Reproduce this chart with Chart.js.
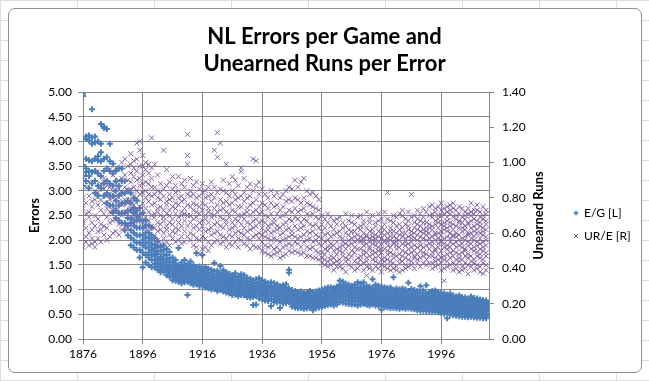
<!DOCTYPE html>
<html><head><meta charset="utf-8">
<script src="https://cdn.jsdelivr.net/npm/chart.js@4.4.1/dist/chart.umd.min.js"></script>
<style>
html,body{margin:0;padding:0;background:#fff;}
#wrap{position:relative;width:649px;height:381px;overflow:hidden;background:#fff;
 background-image:linear-gradient(90deg,#dadcdd 1px,transparent 1px),linear-gradient(#dadcdd 1px,transparent 1px);
 background-size:77px 20px;}
#frame{position:absolute;left:8px;top:8px;width:632px;height:363px;border:1px solid #8e8e8e;border-radius:7px;background:#fff;}
canvas{position:absolute;left:0;top:0;}
</style></head><body>
<div id="wrap"><div id="frame"></div><canvas id="c" width="649" height="381"></canvas></div>
<script>
// ---- text ----
const titleLines = ["NL Errors per Game and", "Unearned Runs per Error"];
const leftAxisTitle = "Errors";
const rightAxisTitle = "Unearned Runs";
const seriesNames = ["E/G [L]", "UR/E [R]"];
const xTickYears = [1876, 1896, 1916, 1936, 1956, 1976, 1996];
const xMin = 1876, xMax = 2012;

// ---- E/G (errors per game): one row per season, one value per team ----
const egStart1 = 1876;
const eg1876to1899 = [
 [4.97,4.92,4.05,3.52,3.30,3.10],[4.10,4.05,3.65,3.45,3.38,3.20],[4.12,4.02,3.62,3.40,3.30,3.05],
 [4.65,4.08,3.95,3.60,3.38,3.15],[4.10,3.98,3.65,3.40,3.20,2.95],[4.00,3.70,3.62,3.35,3.10,2.90],
 [4.35,3.95,3.78,3.60,3.30,3.05],[4.30,4.27,3.65,3.40,3.15,2.90],[4.25,3.68,3.45,3.20,2.95,2.75],
 [3.95,3.60,3.40,3.15,2.90,2.70],[3.55,3.35,3.10,2.90,2.70,2.55],[3.40,3.20,3.00,2.80,2.60,2.45],
 [3.45,3.10,2.90,2.70,2.55,2.40],[3.45,3.20,2.95,2.75,2.55,2.35],[3.20,2.95,2.75,2.55,2.35,2.20],
 [3.00,2.80,2.60,2.45,2.30,2.10],
 [2.95,2.75,2.60,2.45,2.35,2.20,2.05,1.90],[2.85,2.65,2.55,2.40,2.30,2.15,2.00,1.85],
 [2.80,2.60,2.50,2.40,2.25,2.10,1.95,1.80],[2.65,2.50,2.40,2.25,2.10,1.95,1.80,1.65],
 [2.55,2.40,2.25,2.10,2.00,1.90,1.75,1.45],[2.40,2.30,2.15,2.05,1.95,1.85,1.70,1.55],
 [2.30,2.15,2.05,1.95,1.85,1.75,1.65,1.50],[2.25,2.10,2.00,1.90,1.80,1.70,1.60,1.45]
];
const egStart2 = 1900;
const eg1900to1961 = [
 [2.05,1.92,1.84,1.75,1.68,1.60,1.52,1.45],[1.98,1.88,1.78,1.72,1.63,1.55,1.47,1.40],
 [1.86,1.78,1.66,1.60,1.52,1.46,1.40,1.35],[1.90,1.80,1.71,1.62,1.55,1.49,1.42,1.36],
 [1.82,1.70,1.62,1.55,1.47,1.41,1.35,1.29],[1.76,1.64,1.57,1.50,1.44,1.38,1.32,1.26],
 [1.65,1.56,1.49,1.43,1.37,1.31,1.26,1.19],[1.60,1.52,1.46,1.40,1.35,1.29,1.24,1.18],
 [1.84,1.50,1.43,1.38,1.33,1.27,1.22,1.16],[1.55,1.47,1.41,1.36,1.30,1.25,1.19,1.13],
 [1.60,1.50,1.44,1.38,1.32,1.27,1.21,1.15],[1.52,1.45,1.39,1.34,1.28,1.22,1.16,0.89],
 [1.57,1.49,1.42,1.36,1.31,1.25,1.19,1.13],[1.50,1.43,1.37,1.32,1.26,1.21,1.15,1.10],
 [1.74,1.46,1.39,1.33,1.27,1.22,1.16,1.11],[1.47,1.40,1.34,1.29,1.23,1.18,1.12,1.07],
 [1.70,1.43,1.36,1.30,1.24,1.19,1.13,1.08],[1.46,1.38,1.32,1.26,1.21,1.16,1.10,1.04],
 [1.42,1.34,1.28,1.22,1.17,1.12,1.07,1.02],[1.40,1.33,1.27,1.21,1.16,1.11,1.06,1.00],
 [1.54,1.37,1.30,1.24,1.18,1.13,1.07,1.01],[1.38,1.31,1.25,1.19,1.14,1.09,1.03,0.97],
 [1.48,1.34,1.28,1.22,1.16,1.10,1.04,0.99],[1.39,1.31,1.25,1.19,1.13,1.08,1.02,0.96],
 [1.35,1.28,1.22,1.16,1.11,1.05,1.00,0.94],[1.32,1.25,1.19,1.14,1.08,1.03,0.97,0.92],
 [1.29,1.22,1.16,1.11,1.06,1.00,0.95,0.89],[1.33,1.25,1.19,1.13,1.07,1.02,0.96,0.90],
 [1.27,1.20,1.14,1.09,1.04,0.98,0.93,0.87],[1.31,1.24,1.17,1.12,1.06,1.01,0.95,0.89],
 [1.29,1.22,1.16,1.10,1.05,0.99,0.94,0.88],[1.24,1.17,1.11,1.06,1.01,0.96,0.91,0.85],
 [1.22,1.15,1.09,1.04,0.99,0.94,0.89,0.84],[1.19,1.12,1.06,1.01,0.96,0.91,0.85,0.69],
 [1.21,1.14,1.08,1.03,0.98,0.93,0.87,0.70],[1.23,1.16,1.10,1.04,0.99,0.94,0.88,0.82],
 [1.19,1.12,1.06,1.01,0.96,0.91,0.86,0.80],[1.16,1.09,1.04,0.99,0.94,0.89,0.84,0.78],
 [1.13,1.07,1.02,0.97,0.92,0.87,0.82,0.77],[1.15,1.08,1.03,0.97,0.92,0.87,0.81,0.67],
 [1.13,1.07,1.01,0.96,0.91,0.86,0.80,0.75],[1.11,1.05,0.99,0.94,0.89,0.84,0.79,0.74],
 [1.07,1.01,0.96,0.91,0.86,0.81,0.76,0.63],[1.09,1.03,0.97,0.92,0.87,0.82,0.77,0.72],
 [1.11,1.05,0.99,0.93,0.88,0.83,0.78,0.73],[1.40,1.34,1.02,0.96,0.90,0.85,0.80,0.75],
 [0.99,0.94,0.89,0.85,0.80,0.76,0.71,0.66],[0.97,0.92,0.87,0.83,0.78,0.74,0.69,0.64],
 [0.95,0.90,0.85,0.81,0.76,0.72,0.67,0.62],[0.96,0.91,0.86,0.81,0.77,0.72,0.68,0.63],
 [0.93,0.88,0.84,0.79,0.75,0.71,0.66,0.61],[0.95,0.90,0.85,0.80,0.76,0.71,0.67,0.62],
 [0.97,0.92,0.87,0.82,0.77,0.73,0.68,0.63],[0.93,0.88,0.83,0.79,0.74,0.70,0.65,0.58],
 [0.96,0.91,0.86,0.81,0.76,0.72,0.67,0.62],[0.98,0.93,0.88,0.83,0.78,0.73,0.69,0.64],
 [1.00,0.95,0.90,0.85,0.80,0.75,0.70,0.65],[1.02,0.96,0.91,0.86,0.81,0.76,0.71,0.67],
 [1.04,0.98,0.93,0.88,0.83,0.78,0.73,0.69],[1.05,0.99,0.94,0.89,0.84,0.79,0.74,0.70],
 [1.03,0.97,0.92,0.87,0.82,0.77,0.72,0.68],[1.06,1.00,0.95,0.90,0.85,0.80,0.75,0.70]
];
const egStart3 = 1962;
const eg1962to2011 = [
 [1.18,1.10,1.04,0.98,0.93,0.88,0.82,0.75],[1.16,1.08,1.02,0.96,0.91,0.86,0.80,0.74],
 [1.12,1.06,1.00,0.95,0.90,0.85,0.79,0.72],[1.10,1.05,0.99,0.94,0.89,0.84,0.78,0.71],
 [1.08,1.02,0.97,0.92,0.87,0.82,0.76,0.70],[1.10,1.03,0.98,0.93,0.88,0.83,0.77,0.70],
 [1.15,1.04,0.98,0.93,0.88,0.82,0.76,0.68],
 [1.12,1.05,1.00,0.96,0.92,0.88,0.84,0.80,0.75,0.70],[1.15,1.06,1.01,0.97,0.93,0.89,0.85,0.81,0.76,0.71],
 [1.08,1.03,0.98,0.94,0.90,0.86,0.82,0.78,0.74,0.69],[1.06,1.01,0.96,0.92,0.88,0.85,0.81,0.77,0.73,0.68],
 [1.21,1.04,0.99,0.95,0.91,0.87,0.83,0.79,0.74,0.70],[1.10,1.03,0.98,0.94,0.90,0.86,0.82,0.78,0.73,0.68],
 [1.08,1.02,0.97,0.93,0.89,0.85,0.81,0.77,0.72,0.67],[1.06,1.00,0.95,0.91,0.87,0.83,0.79,0.74,0.69,0.59],
 [1.05,0.99,0.94,0.90,0.86,0.82,0.78,0.74,0.70,0.65],[1.03,0.98,0.93,0.89,0.85,0.81,0.77,0.73,0.69,0.64],
 [1.04,0.98,0.93,0.89,0.85,0.81,0.77,0.72,0.68,0.63],[1.25,0.99,0.94,0.89,0.85,0.81,0.77,0.72,0.68,0.63],
 [1.02,0.96,0.91,0.87,0.83,0.79,0.75,0.71,0.67,0.62],[1.00,0.95,0.91,0.87,0.83,0.79,0.75,0.71,0.66,0.61],
 [1.02,0.97,0.92,0.88,0.84,0.80,0.76,0.72,0.68,0.63],[1.00,0.95,0.90,0.86,0.82,0.78,0.74,0.70,0.66,0.61],
 [1.14,0.97,0.91,0.87,0.83,0.79,0.75,0.71,0.67,0.62],[1.01,0.96,0.90,0.86,0.82,0.78,0.74,0.70,0.66,0.61],
 [0.99,0.94,0.89,0.85,0.81,0.77,0.73,0.69,0.65,0.60],[0.97,0.92,0.87,0.83,0.79,0.75,0.71,0.67,0.63,0.58],
 [1.07,0.93,0.87,0.83,0.79,0.75,0.71,0.67,0.63,0.57],[0.98,0.92,0.87,0.83,0.79,0.75,0.71,0.67,0.62,0.57],
 [1.09,0.92,0.86,0.82,0.78,0.74,0.70,0.66,0.62,0.56],[0.95,0.90,0.85,0.81,0.77,0.73,0.69,0.65,0.61,0.56],
 [0.97,0.92,0.88,0.84,0.81,0.78,0.74,0.71,0.68,0.64,0.60,0.55],[0.98,0.93,0.89,0.85,0.82,0.78,0.75,0.72,0.68,0.65,0.61,0.56],
 [0.95,0.91,0.87,0.83,0.80,0.76,0.73,0.70,0.66,0.63,0.59,0.54],[0.94,0.89,0.85,0.82,0.78,0.75,0.72,0.68,0.65,0.61,0.57,0.52],
 [0.92,0.87,0.83,0.80,0.77,0.73,0.70,0.67,0.63,0.60,0.56,0.51],[0.90,0.86,0.82,0.78,0.75,0.72,0.68,0.65,0.62,0.58,0.54,0.42],
 [0.92,0.87,0.83,0.79,0.76,0.72,0.69,0.66,0.62,0.59,0.54,0.49],[0.88,0.84,0.80,0.77,0.73,0.70,0.67,0.63,0.60,0.57,0.53,0.48],
 [0.86,0.82,0.78,0.75,0.72,0.68,0.65,0.62,0.59,0.55,0.51,0.47],[0.88,0.83,0.79,0.75,0.72,0.69,0.65,0.62,0.59,0.55,0.51,0.46],
 [0.85,0.81,0.77,0.74,0.71,0.67,0.64,0.61,0.58,0.54,0.50,0.45],[0.84,0.80,0.76,0.73,0.70,0.66,0.63,0.60,0.57,0.53,0.49,0.45],
 [0.82,0.78,0.75,0.72,0.68,0.65,0.62,0.59,0.56,0.52,0.48,0.44],[0.86,0.81,0.77,0.74,0.70,0.67,0.64,0.60,0.57,0.53,0.49,0.45],
 [0.83,0.79,0.75,0.72,0.69,0.66,0.62,0.59,0.56,0.52,0.48,0.44],[0.82,0.78,0.74,0.71,0.68,0.65,0.61,0.58,0.55,0.51,0.47,0.43],
 [0.80,0.77,0.73,0.70,0.67,0.64,0.61,0.57,0.54,0.50,0.47,0.43],[0.79,0.76,0.72,0.69,0.66,0.63,0.60,0.56,0.53,0.50,0.46,0.42],
 [0.78,0.75,0.71,0.68,0.65,0.62,0.59,0.56,0.52,0.49,0.46,0.42]
];

// ---- UR/E (unearned runs per error): one row per season, one value per team ----
const ure1876to1899 = [
 [.92,.80,.74,.67,.66,.52],[.86,.77,.71,.63,.58,.55],[.89,.81,.72,.69,.60,.53],[.78,.75,.66,.62,.57,.54],
 [.84,.79,.70,.64,.55,.52],[.95,.83,.76,.68,.61,.57],[.88,.79,.73,.65,.62,.55],[.91,.85,.77,.71,.64,.59],
 [.87,.81,.74,.69,.63,.56],[.96,.86,.79,.72,.66,.58],[.93,.84,.80,.73,.67,.60],[.97,.88,.81,.75,.68,.61],
 [.90,.85,.78,.71,.65,.59],[1.00,.91,.83,.76,.70,.62],[1.02,.93,.86,.79,.72,.64],[.98,.90,.84,.77,.71,.63],
 [1.05,.99,.94,.89,.85,.79,.74,.67],[1.01,.97,.92,.86,.81,.76,.70,.65],[1.11,1.02,.95,.90,.84,.80,.73,.68],
 [1.12,1.07,.98,.91,.87,.82,.75,.69],[1.04,.98,.93,.88,.83,.77,.71,.66],[1.00,.96,.89,.84,.80,.74,.69,.63],
 [.99,.94,.88,.82,.78,.72,.67,.61],[1.14,.97,.91,.86,.81,.76,.70,.64]
];
const ure1900to1961 = [
 [.99,.86,.82,.77,.71,.69,.63,.58],[.93,.84,.80,.74,.72,.66,.61,.56],[.88,.83,.79,.75,.70,.65,.62,.54],
 [1.07,.85,.81,.73,.69,.67,.60,.57],[.96,.87,.78,.76,.71,.64,.62,.55],[.89,.82,.79,.73,.70,.66,.59,.53],
 [.92,.85,.80,.75,.68,.65,.61,.57],[.87,.83,.77,.74,.71,.63,.60,.55],[.92,.84,.80,.76,.69,.66,.62,.56],
 [.88,.81,.78,.72,.70,.64,.58,.54],[.90,.86,.79,.74,.71,.67,.61,.55],[1.16,1.04,.99,.82,.76,.70,.64,.58],
 [.91,.84,.81,.75,.70,.66,.60,.56],[.87,.82,.77,.73,.68,.63,.59,.53],[.89,.80,.76,.72,.69,.64,.57,.52],
 [.85,.81,.75,.71,.66,.62,.56,.48],[.88,.83,.77,.73,.67,.64,.58,.51],[.84,.80,.76,.70,.68,.61,.57,.52],
 [.86,.81,.74,.72,.66,.62,.55,.50],[.89,.82,.78,.71,.69,.63,.59,.53],[1.07,.86,.80,.74,.70,.65,.60,.55],
 [1.17,1.03,.83,.76,.72,.66,.61,.56],[1.11,.85,.79,.73,.69,.64,.59,.54],[.90,.84,.77,.74,.68,.63,.58,.55],
 [.99,.83,.78,.72,.67,.65,.57,.52],[.88,.81,.76,.71,.69,.62,.59,.54],[.92,.84,.77,.73,.66,.63,.58,.53],
 [.90,.82,.79,.72,.68,.64,.60,.55],[.87,.80,.75,.70,.67,.61,.57,.52],[.97,.95,.81,.75,.70,.65,.60,.56],
 [.91,.83,.78,.71,.68,.63,.59,.54],[.86,.80,.74,.72,.66,.61,.57,.53],[.88,.81,.76,.70,.65,.62,.56,.51],
 [1.02,.84,.77,.72,.67,.63,.58,.53],[1.01,.87,.79,.73,.68,.64,.59,.52],[.89,.82,.75,.71,.66,.60,.57,.52],
 [.85,.77,.72,.67,.63,.59,.55,.50],[.82,.76,.70,.66,.61,.58,.53,.49],[.80,.74,.69,.64,.62,.57,.52,.48],
 [.84,.77,.71,.65,.60,.56,.53,.47],[.81,.75,.68,.66,.61,.57,.51,.48],[.83,.76,.71,.64,.62,.56,.52,.49],
 [.80,.73,.69,.63,.59,.55,.50,.46],[.82,.75,.70,.65,.60,.56,.52,.47],[.84,.78,.71,.66,.62,.57,.53,.48],
 [.86,.79,.73,.68,.63,.58,.54,.50],[.85,.78,.72,.67,.61,.59,.53,.49],[.90,.80,.74,.69,.64,.58,.55,.50],
 [.86,.79,.72,.68,.62,.57,.54,.49],[.89,.77,.73,.66,.63,.58,.52,.48],[.91,.80,.74,.68,.64,.59,.55,.49],
 [.84,.77,.71,.67,.61,.56,.52,.47],[.82,.76,.70,.65,.60,.57,.51,.47],[.83,.75,.71,.64,.61,.55,.52,.46],
 [.81,.74,.69,.65,.59,.56,.50,.46],[.79,.73,.68,.63,.58,.54,.49,.45],[.70,.65,.61,.57,.53,.49,.46,.43],
 [.68,.63,.59,.55,.51,.48,.45,.42],[.71,.66,.60,.56,.52,.50,.44,.41],[.69,.64,.58,.54,.52,.47,.45,.42],
 [.67,.62,.59,.53,.50,.46,.43,.39],[.68,.65,.60,.55,.51,.48,.44,.41]
];
const ure1962to2011 = [
 [.69,.61,.58,.52,.50,.45,.43,.41],[.66,.63,.55,.53,.49,.47,.40,.57],[.71,.64,.60,.54,.51,.46,.44,.38],
 [.67,.62,.59,.56,.48,.45,.42,.53],[.70,.66,.57,.54,.50,.47,.41,.61],[.65,.61,.58,.52,.49,.44,.39,.55],
 [.69,.63,.59,.56,.51,.46,.43,.40],
 [.70,.64,.62,.56,.55,.51,.47,.45,.42,.58],[.67,.65,.60,.57,.53,.50,.48,.43,.39,.55],
 [.72,.63,.59,.58,.54,.49,.46,.44,.41,.36],[.68,.66,.61,.57,.52,.51,.47,.42,.40,.55],
 [.70,.62,.60,.56,.54,.50,.48,.45,.39,.58],[.66,.64,.59,.55,.53,.49,.46,.44,.41,.57],
 [.71,.67,.61,.58,.52,.50,.47,.43,.40,.55],[.68,.63,.60,.54,.51,.49,.45,.42,.38,.57],
 [.72,.65,.62,.56,.55,.51,.46,.44,.41,.59],[.83,.68,.60,.57,.53,.50,.48,.45,.40,.55],
 [.67,.63,.58,.56,.52,.49,.44,.42,.39,.61],[.70,.66,.61,.55,.54,.48,.46,.43,.40,.58],
 [.69,.64,.60,.57,.53,.51,.47,.41,.39,.55],[.71,.62,.59,.56,.52,.48,.45,.43,.38,.65],
 [.73,.70,.63,.58,.54,.50,.47,.44,.39,.60],[.68,.65,.60,.55,.53,.49,.46,.42,.40,.57],
 [.72,.67,.62,.58,.54,.51,.48,.45,.41,.64],[.82,.69,.61,.59,.55,.52,.49,.44,.42,.57],
 [.70,.66,.63,.57,.53,.50,.47,.46,.40,.60],[.73,.68,.62,.59,.56,.52,.48,.45,.43,.65],
 [.71,.67,.64,.58,.55,.53,.50,.46,.41,.61],[.74,.69,.62,.60,.57,.52,.49,.47,.43,.66],
 [.72,.66,.63,.59,.56,.53,.48,.45,.42,.61],[.75,.70,.65,.60,.57,.54,.51,.47,.43,.63],
 [.76,.71,.69,.64,.62,.58,.55,.53,.49,.47,.43,.40],[.74,.72,.67,.65,.60,.59,.56,.51,.50,.46,.44,.41],
 [.75,.70,.68,.66,.63,.60,.57,.54,.52,.48,.45,.42],[.77,.73,.70,.65,.61,.59,.56,.55,.50,.46,.43,.39],
 [.74,.71,.66,.64,.62,.57,.54,.52,.47,.45,.40,.33],[.75,.72,.69,.67,.63,.61,.58,.53,.51,.48,.44,.41],
 [.76,.73,.71,.66,.64,.60,.57,.55,.52,.49,.46,.42],[.77,.74,.69,.65,.62,.59,.58,.54,.50,.47,.43,.39],
 [.73,.70,.68,.64,.60,.58,.55,.52,.49,.45,.42,.40],[.75,.71,.67,.66,.63,.59,.56,.53,.48,.46,.44,.38],
 [.74,.69,.66,.63,.61,.57,.54,.52,.49,.45,.41,.39],[.72,.70,.68,.64,.62,.58,.56,.51,.50,.47,.43,.40],
 [.74,.71,.66,.65,.60,.59,.55,.53,.48,.46,.42,.37],[.77,.72,.70,.67,.63,.60,.57,.54,.51,.47,.44,.41],
 [.73,.71,.68,.64,.61,.58,.56,.52,.50,.45,.43,.39],[.76,.73,.67,.65,.62,.60,.55,.53,.49,.47,.42,.40],
 [.72,.69,.66,.64,.60,.57,.54,.51,.48,.46,.41,.38],[.75,.70,.68,.63,.61,.59,.55,.52,.50,.45,.43,.37],
 [.73,.71,.67,.65,.62,.58,.56,.53,.49,.47,.42,.39]
];

// ---- styles ----
const blue = "#4A7EBB", purple = "#8064A2", gridColor = "#868686";
const fontFamily = 'Lato, "Liberation Sans", Arial, sans-serif';

function toPoints(startYear, rows, out) {
  rows.forEach((row, i) => row.forEach(v => out.push({x: startYear + i, y: v})));
  return out;
}
const egPoints = [];
toPoints(egStart1, eg1876to1899, egPoints);
toPoints(egStart2, eg1900to1961, egPoints);
toPoints(egStart3, eg1962to2011, egPoints);
const urePoints = [];
toPoints(egStart1, ure1876to1899, urePoints);
toPoints(egStart2, ure1900to1961, urePoints);
toPoints(egStart3, ure1962to2011, urePoints);

const textPlugin = {
  id: 'texts',
  afterDraw(chart) {
    const ctx = chart.ctx, ca = chart.chartArea;
    ctx.save();
    ctx.fillStyle = '#000';
    ctx.textAlign = 'center';
    ctx.textBaseline = 'alphabetic';
    ctx.font = 'bold 22px ' + fontFamily;
    ctx.fillText(titleLines[0], 324.5, 44);
    ctx.fillText(titleLines[1], 324.5, 71);
    // right axis title
    ctx.save();
    ctx.translate(538.5, (ca.top + ca.bottom) / 2);
    ctx.rotate(-Math.PI / 2);
    ctx.textBaseline = 'middle';
    ctx.font = 'bold 13px ' + fontFamily;
    ctx.fillText(rightAxisTitle, 0, 0);
    ctx.restore();
    // legend
    ctx.font = '12px ' + fontFamily;
    ctx.textAlign = 'left';
    ctx.textBaseline = 'middle';
    const lx = 576, ly = [213, 236];
    ctx.strokeStyle = blue; ctx.lineWidth = 1.5;
    ctx.beginPath();
    ctx.moveTo(lx - 2.5, ly[0]); ctx.lineTo(lx + 2.5, ly[0]);
    ctx.moveTo(lx, ly[0] - 2.5); ctx.lineTo(lx, ly[0] + 2.5);
    ctx.stroke();
    ctx.strokeStyle = purple; ctx.lineWidth = 1;
    ctx.beginPath();
    ctx.moveTo(lx - 2, ly[1] - 2); ctx.lineTo(lx + 2, ly[1] + 2);
    ctx.moveTo(lx - 2, ly[1] + 2); ctx.lineTo(lx + 2, ly[1] - 2);
    ctx.stroke();
    ctx.fillStyle = '#000';
    ctx.fillText(seriesNames[0], lx + 8, ly[0]);
    ctx.fillText(seriesNames[1], lx + 8, ly[1]);
    ctx.restore();
  }
};

new Chart(document.getElementById('c'), {
  type: 'scatter',
  data: {
    datasets: [
      { label: seriesNames[0], data: egPoints, yAxisID: 'y', order: 1,
        pointStyle: 'cross', pointRadius: 3, borderWidth: 2,
        borderColor: blue, backgroundColor: blue },
      { label: seriesNames[1], data: urePoints, yAxisID: 'y2', order: 0,
        pointStyle: 'crossRot', pointRadius: 3.5, borderWidth: 1,
        borderColor: purple, backgroundColor: purple }
    ]
  },
  options: {
    responsive: false, animation: false, devicePixelRatio: 1,
    layout: { padding: { left: 8, right: 80, top: 92, bottom: 12 } },
    plugins: { legend: { display: false }, title: { display: false }, tooltip: { enabled: false } },
    scales: {
      x: {
        type: 'linear', min: xMin, max: xMax,
        afterBuildTicks: s => { s.ticks = xTickYears.map(v => ({ value: v })); },
        afterFit: s => { s.height = 30; },
        ticks: { callback: v => String(v), color: '#000', font: { size: 12, family: fontFamily }, padding: 3, maxRotation: 0, autoSkip: false },
        grid: { color: gridColor, tickLength: 5, tickColor: gridColor },
        border: { color: gridColor }
      },
      y: {
        position: 'left', min: 0, max: 5,
        afterFit: s => { s.width = 75; },
        ticks: { stepSize: 0.5, callback: v => v.toFixed(2), color: '#000', font: { size: 12, family: fontFamily }, padding: 6 },
        grid: { color: gridColor, tickLength: 5, tickColor: gridColor },
        border: { color: gridColor },
        title: { display: true, text: leftAxisTitle, color: '#000', font: { size: 13, weight: 'bold', family: fontFamily }, padding: { top: 19, bottom: 0 } }
      },
      y2: {
        position: 'right', min: 0, max: 1.4,
        afterFit: s => { s.width = 80; },
        ticks: { stepSize: 0.2, callback: v => v.toFixed(2), color: '#000', font: { size: 12, family: fontFamily }, padding: 8 },
        grid: { drawOnChartArea: false, tickLength: 5, tickColor: gridColor },
        border: { color: gridColor }
      }
    }
  },
  plugins: [textPlugin]
});
</script>
</body></html>
